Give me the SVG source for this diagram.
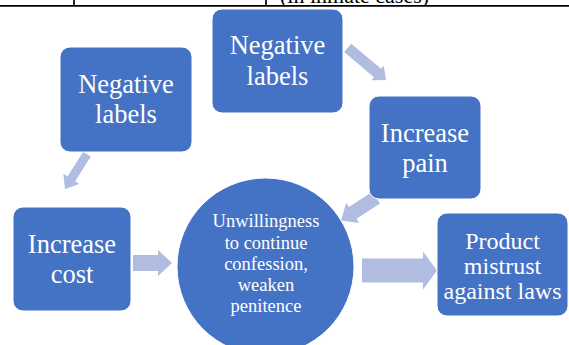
<svg xmlns="http://www.w3.org/2000/svg" width="569" height="345" viewBox="0 0 569 345">
<style>
.box{fill:#4472c4;stroke:#ffffff;stroke-width:1}
.lbl{fill:#ffffff;font-family:"Liberation Serif","Times New Roman",serif;text-anchor:middle}
.big{font-size:26.5px}
.mid{font-size:24px}
.sm{font-size:18.5px}
.arr{fill:#b0bde0}
.rule{stroke:#000000;stroke-width:1.7;fill:none}
</style>
<defs>
<clipPath id="topclip"><rect x="0" y="0" width="569" height="5"/></clipPath>
</defs>
<rect x="0" y="0" width="569" height="345" fill="#ffffff"/>
<g id="table-edge">
<line class="rule" x1="0" y1="5.8" x2="569" y2="5.8"/>
<line class="rule" x1="74" y1="0" x2="74" y2="5.8"/>
<line class="rule" x1="266" y1="0" x2="266" y2="5.8"/>
<text x="280" y="2.5" clip-path="url(#topclip)" font-family="Liberation Serif, serif" font-size="22" fill="#000">(in inmate cases)</text>
</g>
<g id="connectors">
<path class="arr" transform="translate(65,189) rotate(122.2)" d="M-41.3,-4.5 L-12,-4.5 L-12,-9.5 L0,0 L-12,9.5 L-12,4.5 L-41.3,4.5 Z"/>
<path class="arr" transform="translate(386,80) rotate(40)" d="M-50,-5.5 L-11,-5.5 L-11,-9.5 L0,0 L-11,9.5 L-11,5.5 L-50,5.5 Z"/>
<path class="arr" transform="translate(341,220.5) rotate(146.9)" d="M-42,-7 L-14,-7 L-14,-12 L0,0 L-14,12 L-14,7 L-42,7 Z"/>
<path class="arr" transform="translate(172,263)" d="M-39,-8 L-14,-8 L-14,-13 L0,0 L-14,13 L-14,8 L-39,8 Z"/>
<path class="arr" transform="translate(437,270.5)" d="M-75,-12 L-14,-12 L-14,-19 L0,0 L-14,19 L-14,12 L-75,12 Z"/>
</g>
<g id="node-negative-labels-left">
<rect class="box" x="60" y="47" width="132" height="105" rx="10"/>
<text class="lbl big" x="126" y="93">Negative</text>
<text class="lbl big" x="126" y="123">labels</text>
</g>
<g id="node-negative-labels-top">
<rect class="box" x="212" y="9" width="131" height="104" rx="10"/>
<text class="lbl big" x="277.5" y="54">Negative</text>
<text class="lbl big" x="277.5" y="85">labels</text>
</g>
<g id="node-increase-pain">
<rect class="box" x="369" y="96" width="112" height="103" rx="10"/>
<text class="lbl big" x="425" y="142">Increase</text>
<text class="lbl big" x="425" y="172">pain</text>
</g>
<g id="node-increase-cost">
<rect class="box" x="13" y="207" width="118" height="104" rx="10"/>
<text class="lbl big" x="72" y="253">Increase</text>
<text class="lbl big" x="72" y="283">cost</text>
</g>
<g id="node-unwillingness">
<circle cx="265.5" cy="266.5" r="88.5" fill="#4472c4" stroke="#ffffff" stroke-width="1"/>
<text class="lbl sm" x="266" y="227">Unwillingness</text>
<text class="lbl sm" x="266" y="248.5">to continue</text>
<text class="lbl sm" x="266" y="269.5">confession,</text>
<text class="lbl sm" x="266" y="291">weaken</text>
<text class="lbl sm" x="266" y="312">penitence</text>
</g>
<g id="node-product-mistrust">
<rect class="box" x="437" y="213" width="131" height="103" rx="10"/>
<text class="lbl mid" x="502.5" y="249">Product</text>
<text class="lbl mid" x="502.5" y="274">mistrust</text>
<text class="lbl mid" x="502.5" y="298.5">against laws</text>
</g>
</svg>
